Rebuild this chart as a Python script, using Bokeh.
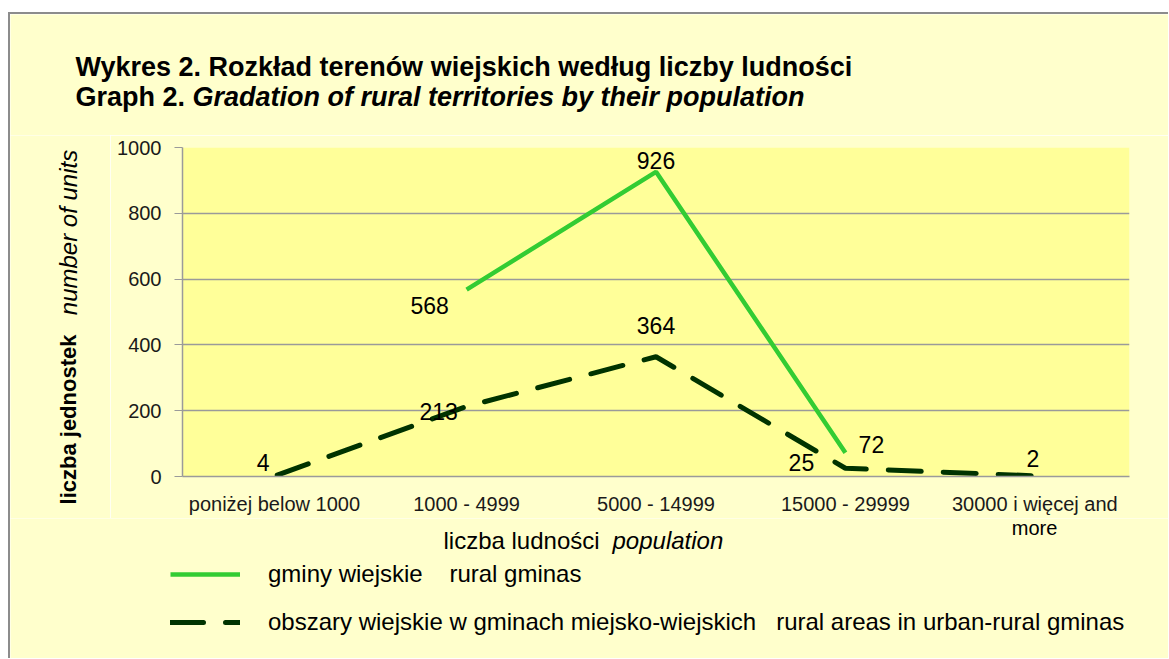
import math
from bokeh.plotting import figure
from bokeh.layouts import column, row
from bokeh.models import (ColumnDataSource, LabelSet, Label, Legend, LegendItem,
                          FactorRange, Range1d, FixedTicker)
from bokeh.core.properties import value
from bokeh.embed import file_html
from bokeh.resources import INLINE

# ---- data ----
categories = ["poniżej below  1000", "1000 - 4999", "5000 - 14999", "15000 - 29999", "30000 i więcej and more"]
# tick text: first line is the axis factor, the last category wraps onto a second line
tick_line1 = ["poniżej below  1000", "1000 - 4999", "5000 - 14999", "15000 - 29999", "30000 i więcej and"]
tick_line2_last = "more"
rural_gminas = [float("nan"), 568, 926, 72, float("nan")]
rural_areas_urban_rural = [4, 213, 364, 25, 2]
y_ticks = [0, 200, 400, 600, 800, 1000]

series_names = ["gminy wiejskie    rural gminas",
                "obszary wiejskie w gminach miejsko-wiejskich   rural areas in urban-rural gminas"]

# label offsets (styling)
green_off = {"568": (-37, -16), "926": (0, 11), "72": (26, 8)}
dark_off = [(-14, 13), (-28, -5), (0, 31), (-44, 6), (-2, 17)]

FONT = "Liberation Sans"
GREEN = "#33CC33"
DARK = "#003300"
BG = "#FFFFCC"
PLOT_BG = "#FFFF99"
GRAY = "#9a9a9a"


def blank(w, h, xr, yr):
    f = figure(width=w, height=h, x_range=Range1d(*xr), y_range=Range1d(*yr),
               x_axis_location=None, y_axis_location=None, toolbar_location=None,
               output_backend="svg", min_border=0)
    f.grid.visible = False
    f.outline_line_color = None
    f.background_fill_color = BG
    f.border_fill_color = BG
    f.frame_align = False
    return f


def lab(f, text, x, y, style="normal", size="24px", angle=0, align="left"):
    f.add_layout(Label(x=x, y=y, text=text, text_font=FONT, text_font_style=style,
                       text_font_size=size, angle=angle, text_align=align,
                       text_baseline="middle", text_color="#000000"))


# ---- main chart ----
factors = tick_line1
p = figure(x_range=FactorRange(*factors), y_range=Range1d(0, 1000),
           width=1058, height=383, output_backend="svg", toolbar_location=None,
           min_border_left=72, min_border_right=39, min_border_top=12, min_border_bottom=42)
p.frame_align = False
p.border_fill_color = BG
p.background_fill_color = PLOT_BG
p.outline_line_color = None

src = ColumnDataSource(dict(x=factors, g=rural_gminas, d=rural_areas_urban_rural))
r_green = p.line("x", "g", source=src, line_color=GREEN, line_width=4.5)
r_dark = p.line("x", "d", source=src, line_color=DARK, line_width=5, line_dash="33 22", line_cap="round")

gx, gy, gt, gdx, gdy = [], [], [], [], []
for c, v in zip(factors, rural_gminas):
    if not math.isnan(v):
        t = str(int(v))
        gx.append(c); gy.append(v); gt.append(t)
        gdx.append(green_off[t][0]); gdy.append(green_off[t][1])
gsrc = ColumnDataSource(dict(x=gx, y=gy, t=gt, dx=gdx, dy=gdy))
dsrc = ColumnDataSource(dict(x=factors, y=rural_areas_urban_rural,
                             t=[str(v) for v in rural_areas_urban_rural],
                             dx=[o[0] for o in dark_off], dy=[o[1] for o in dark_off]))
for s in (gsrc, dsrc):
    p.add_layout(LabelSet(x="x", y="y", text="t", source=s, x_offset="dx", y_offset="dy",
                          text_align="center", text_baseline="middle",
                          text_font=value(FONT), text_font_size="23px", text_color="#000000"))

p.xgrid.grid_line_color = None
p.ygrid.grid_line_color = GRAY
p.ygrid.grid_line_width = 1.5
p.yaxis.ticker = FixedTicker(ticks=y_ticks)
for ax in (p.xaxis[0], p.yaxis[0]):
    ax.axis_line_color = GRAY
    ax.axis_line_width = 1.5
    ax.major_label_text_font = FONT
    ax.major_label_text_font_size = "20px"
    ax.major_label_text_color = "#1a1a1a"
    ax.minor_tick_line_color = None
p.yaxis.major_tick_line_color = GRAY
p.yaxis.major_tick_out = 8
p.yaxis.major_tick_in = 0
p.yaxis.major_label_standoff = 13
p.xaxis.major_tick_line_color = None
p.xaxis.major_label_standoff = 10

# ---- title strip ----
top = blank(1158, 121, (10, 1168), (-135, -14))
lab(top, "Wykres 2.  Rozkład terenów wiejskich według liczby ludności", 75, -66, "bold", "27px")
lab(top, "Graph 2.", 75, -96, "bold", "27px")
lab(top, "Gradation of rural territories by their population", 192, -96, "bold italic", "27px")

# ---- y-axis title strip ----
left = blank(100, 383, (10, 110), (-518, -135))
lab(left, "liczba jednostek", 68, -419, "bold", "22px", angle=math.pi / 2, align="center")
lab(left, "number of units", 68, -232, "italic", "24px", angle=math.pi / 2, align="center")

# ---- bottom strip: second tick line, x title, legend ----
bot = blank(1158, 140, (10, 1168), (-658, -518))
lab(bot, tick_line2_last, 1034, -527, "normal", "20px", align="center")
lab(bot, "liczba ludności", 443, -540, "normal", "24px")
lab(bot, "population", 612, -540, "italic", "24px")
nan = float("nan")
lg = bot.line([nan], [nan], line_color=GREEN, line_width=4.5)
ld = bot.line([nan], [nan], line_color=DARK, line_width=5, line_dash="33 22", line_cap="round")
legend = Legend(items=[LegendItem(label=series_names[0], renderers=[lg]),
                       LegendItem(label=series_names[1], renderers=[ld])],
                location=(160, 22), orientation="vertical",
                glyph_width=70, glyph_height=24, label_standoff=28, spacing=20,
                padding=0, margin=0, border_line_color=None, background_fill_alpha=0,
                label_text_font=FONT, label_text_font_size="24px", label_text_color="#000000")
bot.add_layout(legend, "center")

layout = column(top, row(left, p), bot)
layout.margin = (12, 0, 0, 8)
layout.styles = {"border-top": "2px solid #8c8c8c", "border-left": "2px solid #8c8c8c"}

open("out.html", "w").write(file_html(layout, INLINE))
